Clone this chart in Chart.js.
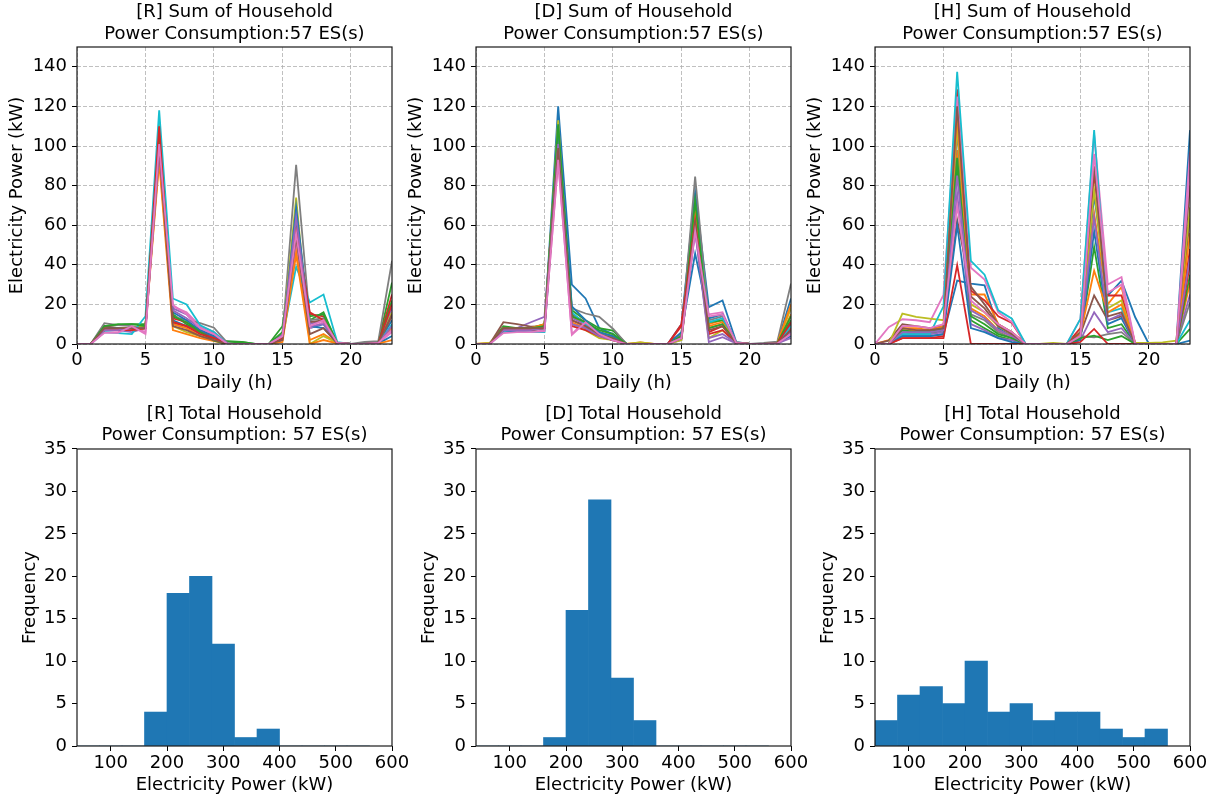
<!DOCTYPE html>
<html>
<head>
<meta charset="utf-8">
<script src="https://cdn.jsdelivr.net/npm/chart.js@4.4.0/dist/chart.umd.min.js"></script>
<style>
  html, body { margin: 0; padding: 0; background: #fff; }
  #page { position: relative; width: 1219px; height: 798px; overflow: hidden; }
  canvas { position: absolute; }
</style>
</head>
<body>
<div id="page">
  <canvas id="rLine" width="412" height="398" style="left:0px;top:0px"></canvas>
  <canvas id="dLine" width="412" height="398" style="left:399px;top:0px"></canvas>
  <canvas id="hLine" width="412" height="398" style="left:798px;top:0px"></canvas>
  <canvas id="rHist" width="412" height="396" style="left:0px;top:402px"></canvas>
  <canvas id="dHist" width="412" height="396" style="left:399px;top:402px"></canvas>
  <canvas id="hHist" width="412" height="396" style="left:798px;top:402px"></canvas>
</div>
<script>
// hours of the day (x values of the top plots)
const hours = [0,1,2,3,4,5,6,7,8,9,10,11,12,13,14,15,16,17,18,19,20,21,22,23];

// [R] household power per hour (kW)
const rSeries = [
  [0,0,7,7,7,8,104,12,9,6,4,0,0,0,0,3,64,8,10,0.5,0,0,0.5,12],
  [0,0,8,8,8,9,100,10,8,4,3,0,0,0,0,2,48,2,5,0.5,0,0,0.3,8],
  [0,0,9,9.5,10,10,98,15,10,6,2,1.5,1,0,0,9,55,12,16,0.5,0,0,0.5,31],
  [0,0,8,8,8,9,106,13,11,7,4,0,0,0,0,4,59,15,14,0.5,0,0,0.5,25],
  [0,0,7,7,6,8,108,18,15,8,5,0,0,0,0,5,66,10,12,0.5,0,0,0.5,18],
  [0,0,9,8,8,8,95,11,9,6,3,0,0,0,0,3,58,11,12,0.5,0,0,0.5,14],
  [0,0,6,6,9,6,100,19,16,9,6,0,0,0,0,4,52,8,11,0.5,0,0,0.5,6],
  [0,0,10.5,9.5,9,8,102,14,12,10.5,8.2,0.5,0,0,0,4,90.5,12,13,0.5,0,1,1.5,42],
  [0,0,7,8,8,9,112,9,6,4,2,0,0,0,0,3,74,0,4,0.5,0,0,0.2,16],
  [0,0,6,5.5,5,14,118,23,20,9.5,6,0,0,0,0,3,39,21,25,1,0,0,0.3,10],
  [0,0,8,8,7,8,98,16,12,7,4,0,0,0,0,2,69,9,8,0.5,0,0,0.2,4],
  [0,0,8,7,7,8,92,7,5,3,1.5,0,0,0,0,1,45,0,2,0.3,0,0,0.2,2],
  [0,0,9,10,10,9,104,14,11,6,1.7,0,1,0,0,6,60,14,15,0.5,0,0,0.5,22],
  [0,0,7,7,7,8,110,11,9,5,3,0,0,0,0,3,57,16,12,0.5,0,0,0.5,20],
  [0,0,7,7,8,8,97,17,13,8,5,0,0,0,0,4,64,9,10,0.5,0,0,0.5,9],
  [0,0,8,8,8,8,100,9,7,4,2,0,0,0,0,2,54,5,8,0.5,0,0,0.5,15],
  [0,0,5.6,5.6,9,5.1,101,19.7,15,8,5,0,0,0,0,4,56,9,12,0.5,0,0,0.5,7]
];

// [D] household power per hour (kW)
const dSeries = [
  [0,0,7,7,7,9,120,30,23,8,5,0,0,0,0,10,77,18.6,22,1,0,0,0.5,23],
  [0,0.5,8,7,8,9,110,14,10,6,4,0,0.8,0,0,3,63,10,12,0.5,0,0,0.5,15],
  [0,0,9,8,8,10,108,17,12,8,6.8,0,0,0,0,5,71,11,12,0.5,0,0,0.5,12],
  [0,0,8,7,7,9,98,12,9,6,3,0,0,0,0,10,66,6,9,0.5,0,0,0.3,8],
  [0,0,8,8,11,13.7,104,13,10,5,2,0,0,0,0,2,58,1,3.4,0.3,0,0,0.3,6],
  [0,0,11,10,8.8,9,102,15,11,5,3,0,0,0,0,3,60,8,10,0.5,0,0,0.5,10],
  [0,0,6,6,6,7,92,5,12,5,2,0,0,0,0,4,56,15,16,0.5,0,0,0.5,5],
  [0,0,8,8,8,8,105,18,15.4,13.7,7.7,0,0,0,0,5,84.6,12,14,1,0,0.5,1.2,30.5],
  [0,0.5,7,7,7,8,113,10,7,3,2,0,0.8,0,0,2,60,3,7,0.5,0,0,0.3,18],
  [0,0,6,6,6,6,100,16,10,6,3,0,0,0,0,3,70,11,13,0.5,0,0,0.3,9],
  [0,0,7,6,7,8,110,19,12,6,4,0,0,0,0,6,45.7,13,15,0.5,0,0,0.3,4],
  [0,0,8,8,8,10,96,11,8,4,2,0,0,0,0,3,68,9,11,0.5,0,0,0.3,20],
  [0,0,8,8,8,9,111,14,11,7,5,0,0,0,0,4,72,8,10,0.5,0,0,0.4,14],
  [0,0,7,7,7,8,100,9,7,4,2,0,0,0,0,9,62,5,7,0.5,0,0,0.3,11],
  [0,0,7,7,7,8,101,10,8,4,2,0,0,0,0,3,57,3,5,0.5,0,0,0.3,3],
  [0,0,8,8,8,8,99,12,9,5,3,0,0,0,0,3,61,7,9,0.5,0,0,0.3,7],
  [0,0,5.5,6,6,6.5,93,4.6,11,5,2,0,0,0,0,3,57,14,15,0.5,0,0,0.3,5]
];

// [H] household power per hour (kW)
const hSeries = [
  [0,0,4,4,4,5,32,30.5,29.6,8,4,0,0,0,0,3,75,24.5,32,13.5,0,0,0,108],
  [0,2,7,7,6,8,98,25,25,10,6,0,0,0,0,6,66,20,28.8,0,0,0,0,31],
  [0,0,6,5,5,7,89.7,12,8,4,2,0,0,0,0,3,49,8,10,0,0,0,0,7.6],
  [0,0,3,3,3,4,128.6,27,22,14,10.6,0,0,0,0,8,86,24.5,24.5,0,0,0,0,48],
  [0,0,5,5,5,6,76,10,7,3,2,0,0,0,0,2,16,6,8,0,0,0,0,25],
  [0,1.7,10,9,8,9,62.6,29,20,10,6,0,0,0,0,5,24.5,12,14,0,0,0,0,63.5],
  [0,8.5,12.5,12,11,24.8,125,38.5,32.5,16,11,0,0,0,0,12.7,105.8,30,33.8,0,0,0,0,97],
  [0,0,6,6,6,7,107,15,12,6,3,0,0,0,0,4,3.4,5,6,0,0,0,0,21],
  [0,0,15.4,13.7,12.8,12,110,20,16,9,5,0,0,0.5,0,6,77.8,18,22,0.5,0.5,0.8,1.7,69],
  [0,0,5,5,5,19,137.5,42,35,17,12.8,0,0,0,0,12.7,108,16,18,0,0,0,0,12],
  [0,0,4,4,4,5,60,8,6,3,1,0,0,0,0,2,57,10,13,0,0,0,0,1.7],
  [0,0,8,8,7,9,116,18,14,7,4,0,0,0,0,5,37,16,20,0,0,0,0,56],
  [0,0,7,6,6,8,94,14,10,5,3,0,0,0,0,3,4.2,2,4,0,0,0,0,35],
  [0,0,3,3,3,3,39.8,0,0,0,0,0,0,0,0,1,7.6,0,0,0,0,0,0,40.6],
  [0,0,6,6,6,7,85,17,13,7,4,0,0,0,0,4,64,12,15,0,0,0,0,44],
  [0,0,8,7,7,8,120,24,18,9,5,0,0,0,0,6,89.7,14,16,0,0,0,0,80],
  [0,0,9,9,8,10,70,22,16,10,6,0,0,0,0,4,96,26,30,0,0,0,0,88]
];

// histogram bins (kW) and counts of the daily totals
const binEdges = [40,80,120,160,200,240,280,320,360,400,440,480,520,560];
const rCounts = [0,0,0,4,18,20,12,1,2,0,0,0,0];
const dCounts = [0,0,0,1,16,29,8,3,0,0,0,0,0];
const hCounts = [3,6,7,5,10,4,5,3,4,4,2,1,2];

const palette = ['#1f77b4','#ff7f0e','#2ca02c','#d62728','#9467bd',
                 '#8c564b','#e377c2','#7f7f7f','#bcbd22','#17becf'];

Chart.defaults.font.family = "'DejaVu Sans', sans-serif";
Chart.defaults.color = '#000';

// black box around the plot area, like matplotlib spines
const frame = {
  id: 'frame',
  afterDraw(chart) {
    const { ctx, chartArea: a } = chart;
    ctx.save();
    ctx.setLineDash([]);
    ctx.strokeStyle = '#1a1a1a';
    ctx.lineWidth = 1.2;
    ctx.strokeRect(a.left, a.top, a.right - a.left, a.bottom - a.top);
    ctx.restore();
  }
};

function axisTitle(text, padding) {
  return { display: true, text: text, font: { size: 18 }, padding: padding };
}

function tickMarks(showGrid) {
  return {
    offset: false,
    drawOnChartArea: showGrid,
    color: '#b0b0b0',
    lineWidth: 0.8,
    tickLength: 5,
    tickColor: '#000',
    tickWidth: 1,
    tickBorderDash: []
  };
}

// title centred over the plot area only (fullSize: false)
function plotTitle(text, padding) {
  return {
    display: true,
    fullSize: false,
    text: text,
    font: { size: 18, weight: 'normal' },
    padding: padding
  };
}

function lineChart(id, title, series) {
  const datasets = series.map((vals, i) => ({
    data: hours.map((h, j) => ({ x: h, y: vals[j] })),
    borderColor: palette[i % palette.length],
    borderWidth: 1.8,
    pointRadius: 0,
    fill: false,
    tension: 0,
    order: -i
  }));

  new Chart(document.getElementById(id), {
    type: 'line',
    data: { datasets: datasets },
    options: {
      responsive: false,
      animation: false,
      layout: { padding: { left: 0, right: 20, top: 0, bottom: 0 } },
      plugins: {
        legend: { display: false },
        tooltip: { enabled: false },
        title: plotTitle(title, { top: 2, bottom: 1.8 })
      },
      scales: {
        x: {
          type: 'linear',
          min: 0,
          max: 23,
          afterFit: s => { s.height = 54; },
          ticks: { stepSize: 5, includeBounds: false, autoSkip: false, maxRotation: 0, padding: 1, font: { size: 18 } },
          grid: tickMarks(true),
          border: { display: false, dash: [4, 2] },
          title: axisTitle('Daily (h)', { top: 0, bottom: 4 })
        },
        y: {
          min: 0,
          max: 150,
          afterFit: s => { s.width = 77; },
          ticks: { stepSize: 20, includeBounds: false, autoSkip: false, padding: 5, font: { size: 18 } },
          grid: tickMarks(true),
          border: { display: false, dash: [4, 2] },
          title: axisTitle('Electricity Power (kW)', { top: 7, bottom: 0 })
        }
      }
    },
    plugins: [frame]
  });
}

function histChart(id, title, counts) {
  const bars = counts.map((c, i) => ({ x: (binEdges[i] + binEdges[i + 1]) / 2, y: c }));

  new Chart(document.getElementById(id), {
    type: 'bar',
    data: {
      datasets: [{
        data: bars,
        backgroundColor: '#1f77b4',
        borderWidth: 0,
        barPercentage: 1,
        categoryPercentage: 1
      }]
    },
    options: {
      responsive: false,
      animation: false,
      layout: { padding: { left: 0, right: 20, top: 0, bottom: 0 } },
      plugins: {
        legend: { display: false },
        tooltip: { enabled: false },
        title: plotTitle(title, { top: 1.2, bottom: 2.6 })
      },
      scales: {
        x: {
          type: 'linear',
          offset: false,
          min: 40,
          max: 600,
          afterFit: s => { s.height = 52; },
          ticks: { stepSize: 100, includeBounds: false, autoSkip: false, maxRotation: 0, padding: 2, font: { size: 18 } },
          grid: tickMarks(false),
          border: { display: false },
          title: axisTitle('Electricity Power (kW)', { top: 0, bottom: 2 })
        },
        y: {
          min: 0,
          max: 35,
          afterFit: s => { s.width = 77; },
          ticks: { stepSize: 5, autoSkip: false, padding: 5, font: { size: 18 } },
          grid: tickMarks(false),
          border: { display: false },
          title: axisTitle('Frequency', { top: 20, bottom: 0 })
        }
      }
    },
    plugins: [frame]
  });
}

lineChart('rLine', ['[R] Sum of Household', 'Power Consumption:57 ES(s)'], rSeries);
lineChart('dLine', ['[D] Sum of Household', 'Power Consumption:57 ES(s)'], dSeries);
lineChart('hLine', ['[H] Sum of Household', 'Power Consumption:57 ES(s)'], hSeries);

histChart('rHist', ['[R] Total Household', 'Power Consumption: 57 ES(s)'], rCounts);
histChart('dHist', ['[D] Total Household', 'Power Consumption: 57 ES(s)'], dCounts);
histChart('hHist', ['[H] Total Household', 'Power Consumption: 57 ES(s)'], hCounts);
</script>
</body>
</html>
